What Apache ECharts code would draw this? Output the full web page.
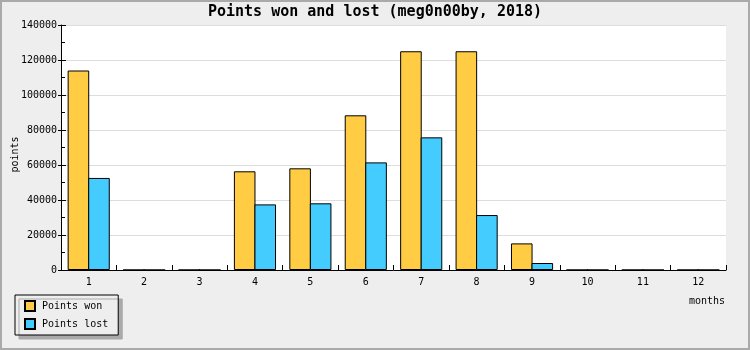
<!DOCTYPE html>
<html>
<head>
<meta charset="utf-8">
<script src="https://cdn.jsdelivr.net/npm/echarts@6/dist/echarts.min.js"></script>
<style>
html,body{margin:0;padding:0;background:#eeeeee;}
#chart{width:750px;height:350px;}
</style>
</head>
<body>
<div id="chart"></div>
<script>
var months = ['1','2','3','4','5','6','7','8','9','10','11','12'];
var pointsWon = [114000, 0, 0, 56400, 58100, 88400, 125000, 125000, 15200, 0, 0, 0];
var pointsLost = [52600, 0, 0, 37500, 38100, 61500, 75800, 31400, 4000, 0, 0, 0];
var yTicks = [0, 20000, 40000, 60000, 80000, 100000, 120000, 140000];

var FONT = '"DejaVu Sans Mono", "Liberation Mono", monospace';
var chart = echarts.init(document.getElementById('chart'), null, {renderer: 'canvas'});
chart.setOption({
  backgroundColor: '#eeeeee',
  animation: false,
  title: {
    text: 'Points won and lost (meg0n00by, 2018)',
    left: 'center',
    top: 5,
    padding: 0,
    textStyle: {fontFamily: FONT, fontSize: 15, fontWeight: 'bold', color: '#000'}
  },
  legend: {
    orient: 'vertical',
    left: 15,
    top: 295,
    padding: [5, 10, 5, 9],
    itemWidth: 10,
    itemHeight: 10,
    itemGap: 6,
    icon: 'rect',
    backgroundColor: '#eeeeee',
    borderColor: '#000',
    borderWidth: 1,
    shadowColor: '#aaaaaa',
    shadowBlur: 0,
    shadowOffsetX: 4,
    shadowOffsetY: 4,
    textStyle: {fontFamily: FONT, fontSize: 10, color: '#000', padding: [0, 0, 0, 2]},
    data: ['Points won', 'Points lost']
  },
  grid: {left: 61, right: 24, top: 25, bottom: 80, containLabel: false, outerBoundsMode: 'none', show: true, backgroundColor: '#fff', borderWidth: 0},
  xAxis: {
    type: 'category',
    data: months,
    name: 'months',
    nameLocation: 'end',
    nameGap: 0,
    nameTextStyle: {fontFamily: FONT, fontSize: 10, color: '#000', align: 'right', verticalAlign: 'top', padding: [26, 1, 0, 0]},
    axisLine: {lineStyle: {color: '#000', width: 1}},
    axisTick: {show: true, inside: true, length: 5, lineStyle: {color: '#000'}},
    axisLabel: {fontFamily: FONT, fontSize: 10, color: '#000', margin: 7},
    splitLine: {show: false}
  },
  yAxis: [{
    type: 'value',
    min: yTicks[0],
    max: yTicks[yTicks.length - 1],
    interval: 20000,
    name: 'points',
    nameLocation: 'middle',
    nameGap: 41,
    nameMoveOverlap: false,
    nameRotate: 90,
    nameTextStyle: {fontFamily: FONT, fontSize: 10, color: '#000', padding: [0, 14, 0, 0]},
    axisLine: {show: true, lineStyle: {color: '#000', width: 1}},
    axisTick: {show: true, inside: true, length: 5, lineStyle: {color: '#000'}},
    minorTick: {show: true, splitNumber: 2, length: 4, lineStyle: {color: '#000'}},
    axisLabel: {fontFamily: FONT, fontSize: 10, color: '#000', margin: 4, formatter: function (v) { return String(v); }},
    splitLine: {show: true, lineStyle: {color: '#dddddd', width: 1}}
  }, {
    type: 'value',
    position: 'left',
    offset: 0,
    min: yTicks[0],
    max: yTicks[yTicks.length - 1],
    interval: 20000,
    axisLine: {show: false},
    axisTick: {show: true, inside: false, length: 3, lineStyle: {color: '#000'}},
    axisLabel: {show: false},
    splitLine: {show: false}
  }],
  series: [{
    name: 'Points won',
    type: 'bar',
    data: pointsWon,
    barGap: '-4.8%',
    barCategoryGap: '24%',
    itemStyle: {color: '#ffcc44', borderColor: '#000', borderWidth: 1}
  }, {
    name: 'Points lost',
    type: 'bar',
    data: pointsLost,
    barGap: '-4.8%',
    barCategoryGap: '24%',
    itemStyle: {color: '#44ccff', borderColor: '#000', borderWidth: 1}
  }],
  graphic: [{
    type: 'rect',
    silent: true,
    z: 100,
    shape: {x: 1, y: 1, width: 748, height: 348},
    style: {fill: null, stroke: '#aaaaaa', lineWidth: 2}
  }]
});
</script>
</body>
</html>
